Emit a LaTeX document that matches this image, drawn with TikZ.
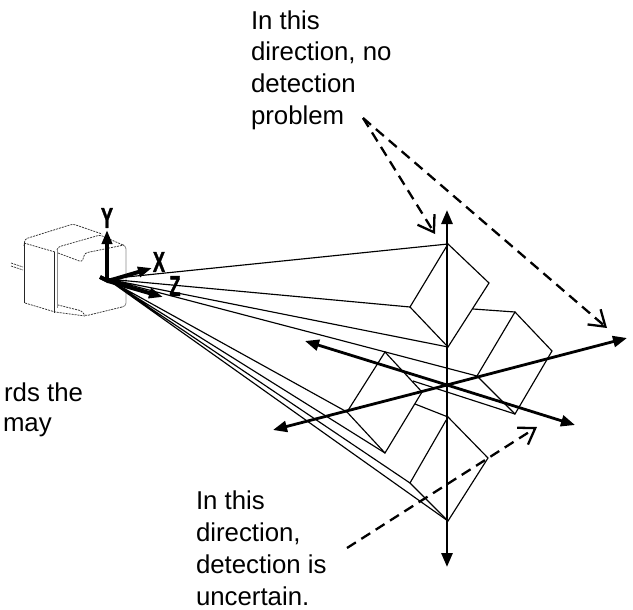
\documentclass[tikz,border=0pt]{standalone}
\usepackage{fontspec}
\setmainfont{Liberation Sans}
\newfontfamily\axisfont[FakeBold=1.6]{Liberation Sans Bold}
\usetikzlibrary{arrows.meta}
\tikzset{
  thinline/.style={line width=1.15pt,black,line join=miter},
  mainaxis/.style={line width=2.8pt,black,-{Triangle[length=14pt,width=11pt]}},
  camaxis/.style={line width=4pt,black,-{Triangle[length=14pt,width=10pt]}},
  dasharrow/.style={line width=2.3pt,black,dash pattern=on 10.5pt off 6.5pt,-{Straight Barb[length=15pt,width=20pt,line width=2.3pt]}},
  camdot/.style={line width=.75pt,black!80,dash pattern=on 2pt off 1pt,rounded corners=2.5pt},
  camgray/.style={line width=.8pt,black!45,rounded corners=3pt},
  camsolid/.style={line width=1pt,black!85},
  label/.style={inner sep=0pt,outer sep=0pt,anchor=north west,align=left,font=\fontsize{25.8}{31.8}\selectfont},
  axislabel/.style={inner sep=0pt,outer sep=0pt,font=\fontsize{29}{29}\axisfont,xscale=.63}
}
\begin{document}
\begin{tikzpicture}[x=1pt,y=-1pt]
\useasboundingbox (0,0) rectangle (633,610);
% points
\coordinate (o) at (107,279);
\coordinate (at) at (448,244); \coordinate (ar) at (489,283); \coordinate (ab) at (448,347); \coordinate (al) at (410,307);
\coordinate (bt) at (515,312); \coordinate (br) at (552,351); \coordinate (bb) at (515,414); \coordinate (bl) at (477,376);
\coordinate (ct) at (385,352); \coordinate (cr) at (422,392); \coordinate (cb) at (385,453); \coordinate (cl) at (347,412);
\coordinate (dt) at (448,417); \coordinate (dr) at (488,458); \coordinate (db) at (448,521); \coordinate (dl) at (410,483);
\coordinate (bh) at (473,309); \coordinate (bbh) at (413,381); \coordinate (dth) at (415,404);
% camera
\draw[camdot] (24,246) -- (25,239) -- (73,224) -- (102,234);
\draw[camdot] (24,243) -- (55,252);
\draw[camdot] (57,250) -- (58,247) -- (100,235) -- (123,245);
\draw[camgray] (123,245) -- (126,246) -- (126,306) -- (122,307);
\draw[camdot] (122,307) -- (85,316) -- (82,311) -- (58,305);
\draw[camgray] (57,308) -- (57,250);
\draw[camdot] (58,253) -- (82,262) -- (85,253) -- (124,245);
\draw[camdot] (25,303) -- (55,312) -- (85,316);
\draw[camdot,rounded corners=0pt] (11,263) -- (23,267) (11,266) -- (23,270);
\draw[camsolid] (24,243) -- (24,303) (54,252) -- (54,313);
% rays
\draw[thinline] (o) -- (at) (o) -- (al) (o) -- (ab) (o) -- (bl);
\draw[thinline] (o) -- (cl) (o) -- (cb) (o) -- (dl) (o) -- (db);
\draw[thinline] (bh) -- (bt) (bbh) -- (bb) (dth) -- (dt);
% pyramids
\draw[thinline] (at) -- (ar) -- (ab) -- (al) -- cycle;
\draw[thinline] (bt) -- (br) -- (bb) -- (bl) -- cycle;
\draw[thinline] (ct) -- (cr) -- (cb) -- (cl) -- cycle;
\draw[thinline] (dt) -- (dr) -- (db) -- (dl) -- cycle;
% main axes
\coordinate (c) at (447,385);
\coordinate (vt) at (447,210); \coordinate (vb) at (447,567);
\coordinate (hl) at (273,430); \coordinate (hr) at (627,338);
\coordinate (kl) at (305,341); \coordinate (kr) at (575,425);
\draw[mainaxis] (c) -- (vt);
\draw[mainaxis] (c) -- (vb);
\draw[mainaxis] (c) -- (hl);
\draw[mainaxis] (c) -- (hr);
\draw[mainaxis] (c) -- (kl);
\draw[mainaxis] (c) -- (kr);
% camera axes
\coordinate (oa) at (100,277);
\coordinate (yt) at (107,230); \coordinate (xt) at (152,268); \coordinate (zt) at (163,297);
\draw[camaxis] (107,281) -- (yt);
\draw[camaxis] (oa) -- (108,281) -- (xt);
\draw[camaxis] (oa) -- (108,281) -- (zt);
\node[axislabel] (ylab) at (107,218) {Y};
\node[axislabel] (xlab) at (159,262) {X};
\node[axislabel] (zlab) at (175,286) {Z};
% dashed arrows
\coordinate (s1) at (363,118);
\coordinate (e1) at (435,234); \coordinate (e2) at (607,328);
\coordinate (s3) at (347,548); \coordinate (e3) at (537,427);
\draw[dasharrow] (s1) -- (e1);
\draw[dasharrow] (s1) -- (e2);
\draw[dasharrow] (s3) -- (e3);
% text
\node[label] (top) at (251,10.5) {In this\\direction, no\\detection\\problem};
\node[label] (bot) at (196,491) {In this\\direction,\\detection is\\uncertain.};
\node[label,anchor=base east] (cut1) at (83,401) {rds the};
\node[label,anchor=base west] (cut2) at (3,431) {may};
\end{tikzpicture}
\end{document}
